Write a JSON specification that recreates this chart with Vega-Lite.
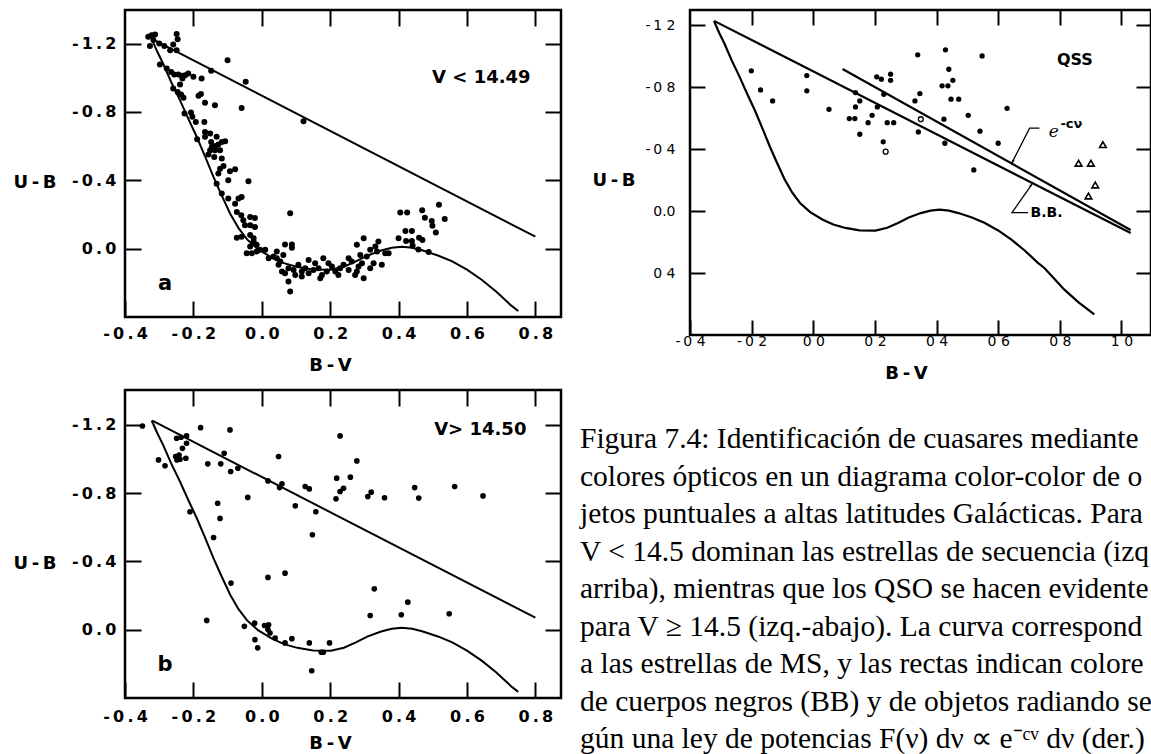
{
  "$schema": "https://vega.github.io/schema/vega-lite/v6.json",
  "padding": {"left": 11, "top": 7, "right": 0, "bottom": 0},
  "config": {
    "view": {"stroke": "#000", "strokeWidth": 2.5},
    "axis": {"domain": false, "grid": false, "tickColor": "#000", "tickWidth": 2, "labelColor": "#000", "titleColor": "#000", "labelFont": "DejaVu Sans", "titleFont": "DejaVu Sans", "titleFontWeight": "bold", "labelFontWeight": "bold", "labelFlush": false, "labelOverlap": false}
  },
  "datasets": {
    "ptsA": [
      {"x":-0.332,"y":-1.239},{"x":-0.322,"y":-1.249},{"x":-0.312,"y":-1.253},{"x":-0.327,"y":-1.186},{"x":-0.317,"y":-1.22},{"x":-0.3,"y":-1.2},{"x":-0.285,"y":-1.186},{"x":-0.249,"y":-1.255},{"x":-0.246,"y":-1.225},{"x":-0.259,"y":-1.194},{"x":-0.268,"y":-1.161},{"x":-0.249,"y":-1.161},{"x":-0.1,"y":-1.102},{"x":-0.148,"y":-1.04},{"x":-0.047,"y":-0.976},{"x":-0.059,"y":-0.823},{"x":0.122,"y":-0.745},{"x":-0.298,"y":-1.077},{"x":-0.278,"y":-1.054},{"x":-0.265,"y":-1.034},{"x":-0.256,"y":-1.018},{"x":-0.244,"y":-1.018},{"x":-0.234,"y":-1.011},{"x":-0.224,"y":-1.015},{"x":-0.215,"y":-1.024},{"x":-0.232,"y":-0.995},{"x":-0.2,"y":-1.005},{"x":-0.176,"y":-0.995},{"x":-0.239,"y":-0.96},{"x":-0.259,"y":-0.937},{"x":-0.246,"y":-0.917},{"x":-0.236,"y":-0.901},{"x":-0.229,"y":-0.882},{"x":-0.185,"y":-0.894},{"x":-0.178,"y":-0.905},{"x":-0.166,"y":-0.853},{"x":-0.137,"y":-0.839},{"x":-0.226,"y":-0.79},{"x":-0.207,"y":-0.796},{"x":-0.203,"y":-0.771},{"x":-0.193,"y":-0.741},{"x":-0.168,"y":-0.741},{"x":-0.189,"y":-0.64},{"x":-0.166,"y":-0.683},{"x":-0.151,"y":-0.673},{"x":-0.166,"y":-0.654},{"x":-0.148,"y":-0.624},{"x":-0.132,"y":-0.654},{"x":-0.146,"y":-0.595},{"x":-0.135,"y":-0.601},{"x":-0.127,"y":-0.609},{"x":-0.117,"y":-0.624},{"x":-0.107,"y":-0.628},{"x":-0.151,"y":-0.575},{"x":-0.137,"y":-0.575},{"x":-0.122,"y":-0.575},{"x":-0.156,"y":-0.55},{"x":-0.139,"y":-0.536},{"x":-0.117,"y":-0.527},{"x":-0.122,"y":-0.468},{"x":-0.112,"y":-0.484},{"x":-0.093,"y":-0.453},{"x":-0.078,"y":-0.464},{"x":-0.127,"y":-0.439},{"x":-0.098,"y":-0.4},{"x":-0.039,"y":-0.394},
      {"x":-0.132,"y":-0.38},{"x":-0.117,"y":-0.322},{"x":-0.098,"y":-0.293},{"x":-0.078,"y":-0.263},{"x":-0.068,"y":-0.293},{"x":-0.059,"y":-0.302},{"x":-0.073,"y":-0.214},{"x":-0.06,"y":-0.195},{"x":-0.054,"y":-0.166},{"x":-0.034,"y":-0.185},{"x":-0.02,"y":-0.179},{"x":-0.049,"y":-0.137},{"x":-0.034,"y":-0.137},{"x":-0.02,"y":-0.127},{"x":-0.073,"y":-0.064},{"x":-0.059,"y":-0.07},{"x":-0.034,"y":-0.08},{"x":-0.024,"y":-0.061},{"x":-0.024,"y":-0.041},{"x":-0.015,"y":-0.022},{"x":-0.034,"y":-0.012},{"x":-0.044,"y":0.027},{"x":-0.029,"y":0.027},{"x":-0.015,"y":0.017},{"x":-0.005,"y":0.007},{"x":0.01,"y":0.007},{"x":0.02,"y":0.056},{"x":0.034,"y":0.046},{"x":0.044,"y":0.056},{"x":0.049,"y":0.095},{"x":0.054,"y":0.076},{"x":0.059,"y":0.134},{"x":0.068,"y":0.144},{"x":0.078,"y":0.193},{"x":0.083,"y":0.251},{"x":0.068,"y":-0.024},{"x":0.088,"y":-0.024},{"x":0.088,"y":-0.005},{"x":0.083,"y":-0.207},{"x":0.044,"y":0.017},{"x":0.063,"y":0.037},{"x":0.078,"y":0.115},{"x":0.093,"y":0.125},{"x":0.107,"y":0.095},{"x":0.117,"y":0.134},{"x":0.127,"y":0.115},{"x":0.137,"y":0.144},{"x":0.151,"y":0.125},{"x":0.166,"y":0.115},{"x":0.176,"y":0.154},{"x":0.18,"y":0.056},{"x":0.19,"y":0.134},{"x":0.205,"y":0.105},{"x":0.215,"y":0.134},{"x":0.229,"y":0.115},{"x":0.239,"y":0.095},{"x":0.254,"y":0.125},{"x":0.263,"y":0.076},{"x":0.273,"y":0.154},{"x":0.283,"y":0.105},{"x":0.293,"y":0.086},{"x":0.307,"y":0.046},{"x":0.298,"y":0.173},{"x":0.317,"y":0.115},{"x":0.327,"y":0.086},{"x":0.337,"y":0.017},{"x":0.351,"y":0.095},{"x":0.361,"y":0.027},{"x":0.371,"y":0.027},{"x":0.341,"y":-0.041},{"x":0.298,"y":-0.061},{"x":0.278,"y":-0.022},{"x":0.278,"y":0.134},{"x":0.224,"y":0.154},{"x":0.137,"y":0.066},{"x":0.156,"y":0.086},{"x":0.195,"y":0.086},{"x":0.254,"y":0.056},{"x":0.288,"y":0.037},{"x":0.317,"y":0.007},{"x":0.332,"y":-0.012},{"x":0.098,"y":0.154},{"x":0.117,"y":0.163},{"x":0.171,"y":0.173},{"x":0.405,"y":-0.212},{"x":0.4,"y":-0.061},
      {"x":0.425,"y":-0.211},{"x":0.469,"y":-0.225},{"x":0.477,"y":-0.18},{"x":0.518,"y":-0.256},{"x":0.535,"y":-0.174},{"x":0.497,"y":-0.162},{"x":0.499,"y":-0.134},{"x":0.509,"y":-0.095},{"x":0.42,"y":-0.103},{"x":0.439,"y":-0.103},{"x":0.422,"y":-0.045},{"x":0.439,"y":-0.045},{"x":0.441,"y":-0.018},{"x":0.46,"y":-0.064},{"x":0.47,"y":-0.051},{"x":0.458,"y":0.005},{"x":0.488,"y":0.02}
    ],
    "ptsB": [
      {"x":-0.349,"y":-1.194},{"x":-0.302,"y":-0.995},{"x":-0.283,"y":-0.961},{"x":-0.249,"y":-1.122},{"x":-0.236,"y":-1.128},{"x":-0.22,"y":-1.136},{"x":-0.22,"y":-1.093},{"x":-0.232,"y":-1.063},{"x":-0.252,"y":-1.015},{"x":-0.242,"y":-1.024},{"x":-0.239,"y":-0.999},{"x":-0.222,"y":-1.005},{"x":-0.248,"y":-0.995},{"x":-0.179,"y":-1.184},{"x":-0.093,"y":-1.171},{"x":-0.158,"y":-0.972},{"x":-0.12,"y":-0.972},{"x":-0.11,"y":-1.034},{"x":-0.091,"y":-0.927},{"x":-0.07,"y":-0.946},{"x":-0.041,"y":-0.775},{"x":0.018,"y":-0.872},{"x":0.049,"y":-1.015},{"x":0.059,"y":-0.855},{"x":0.052,"y":-0.833},{"x":0.127,"y":-0.839},{"x":0.139,"y":-0.825},{"x":0.098,"y":-0.726},{"x":0.158,"y":-0.691},{"x":0.148,"y":-0.556},{"x":0.229,"y":-1.136},{"x":0.278,"y":-0.989},{"x":0.219,"y":-0.888},{"x":0.259,"y":-0.894},{"x":0.229,"y":-0.81},{"x":0.239,"y":-0.829},{"x":0.217,"y":-0.767},{"x":0.31,"y":-0.78},{"x":0.32,"y":-0.806},{"x":0.359,"y":-0.773},{"x":-0.129,"y":-0.741},{"x":-0.122,"y":-0.652},{"x":-0.141,"y":-0.54},{"x":-0.21,"y":-0.691},
      {"x":0.447,"y":-0.833},{"x":0.459,"y":-0.771},{"x":0.564,"y":-0.839},{"x":0.647,"y":-0.784},
      {"x":-0.09,"y":-0.273},{"x":0.018,"y":-0.306},{"x":0.068,"y":-0.331},{"x":-0.161,"y":-0.054},{"x":-0.051,"y":-0.019},{"x":-0.021,"y":-0.038},{"x":0.008,"y":-0.024},{"x":0.02,"y":-0.028},{"x":0.018,"y":0.0},{"x":0.024,"y":0.02},{"x":0.039,"y":0.049},{"x":-0.02,"y":0.059},{"x":-0.012,"y":0.107},{"x":0.068,"y":0.078},{"x":0.088,"y":0.053},{"x":0.139,"y":0.078},{"x":0.174,"y":0.133},{"x":0.18,"y":0.133},{"x":0.198,"y":0.078},{"x":0.146,"y":0.241},{"x":0.329,"y":-0.239},{"x":0.317,"y":-0.083},{"x":0.408,"y":-0.087},{"x":0.427,"y":-0.161},{"x":0.548,"y":-0.093}
    ],
    "ptsC": [
      {"x":-0.201,"y":-0.906},{"x":-0.171,"y":-0.783},{"x":-0.132,"y":-0.712},{"x":-0.021,"y":-0.875},{"x":-0.021,"y":-0.777},{"x":0.051,"y":-0.658},{"x":0.117,"y":-0.598},{"x":0.135,"y":-0.598},{"x":0.137,"y":-0.766},{"x":0.151,"y":-0.712},{"x":0.137,"y":-0.673},{"x":0.178,"y":-0.572},{"x":0.151,"y":-0.497},{"x":0.191,"y":-0.619},{"x":0.208,"y":-0.673},{"x":0.206,"y":-0.867},{"x":0.221,"y":-0.852},{"x":0.251,"y":-0.884},{"x":0.251,"y":-0.845},{"x":0.229,"y":-0.755},{"x":0.24,"y":-0.572},{"x":0.261,"y":-0.572},{"x":0.227,"y":-0.448},{"x":0.339,"y":-1.009},{"x":0.346,"y":-0.759},{"x":0.33,"y":-0.712},{"x":0.341,"y":-0.512},
      {"x":0.429,"y":-1.041},{"x":0.548,"y":-1.002},{"x":0.44,"y":-0.916},{"x":0.453,"y":-0.845},{"x":0.418,"y":-0.809},{"x":0.437,"y":-0.809},{"x":0.447,"y":-0.723},{"x":0.472,"y":-0.723},{"x":0.629,"y":-0.664},{"x":0.503,"y":-0.619},{"x":0.424,"y":-0.594},{"x":0.541,"y":-0.517},{"x":0.427,"y":-0.439},{"x":0.6,"y":-0.439},{"x":0.521,"y":-0.267}
    ],
    "openC": [{"x":0.235,"y":-0.385},{"x":0.349,"y":-0.594}],
    "triC": [{"x":0.94,"y":-0.43},{"x":0.861,"y":-0.31},{"x":0.901,"y":-0.31},{"x":0.915,"y":-0.17},{"x":0.893,"y":-0.099}],
    "ms": [
      {"x":-0.322,"y":-1.226},{"x":-0.305,"y":-1.15},{"x":-0.288,"y":-1.08},{"x":-0.265,"y":-0.975},{"x":-0.239,"y":-0.867},{"x":-0.215,"y":-0.76},{"x":-0.19,"y":-0.653},{"x":-0.165,"y":-0.535},{"x":-0.141,"y":-0.418},{"x":-0.117,"y":-0.31},{"x":-0.092,"y":-0.203},{"x":-0.068,"y":-0.12},{"x":-0.043,"y":-0.054},{"x":-0.01,"y":0.005},{"x":0.031,"y":0.054},{"x":0.065,"y":0.085},{"x":0.104,"y":0.107},{"x":0.15,"y":0.122},{"x":0.202,"y":0.124},{"x":0.24,"y":0.106},{"x":0.275,"y":0.075},{"x":0.31,"y":0.04},{"x":0.349,"y":0.011},{"x":0.38,"y":-0.005},{"x":0.41,"y":-0.011},{"x":0.44,"y":-0.005},{"x":0.471,"y":0.011},{"x":0.515,"y":0.04},{"x":0.557,"y":0.075},{"x":0.6,"y":0.123},{"x":0.643,"y":0.182},{"x":0.686,"y":0.252},{"x":0.729,"y":0.332},{"x":0.75,"y":0.365},{"x":0.78,"y":0.43},{"x":0.814,"y":0.503},{"x":0.86,"y":0.585},{"x":0.912,"y":0.664}
    ],
    "bbAB": [{"x":-0.32,"y":-1.225},{"x":0.8,"y":-0.07}],
    "bbC": [{"x":-0.322,"y":-1.228},{"x":1.03,"y":0.14}],
    "plC": [{"x":0.095,"y":-0.918},{"x":1.03,"y":0.12}],
    "leaders": [
      {"id":"e","o":1,"x":0.734,"y":-0.536},{"id":"e","o":2,"x":0.702,"y":-0.536},{"id":"e","o":3,"x":0.645,"y":-0.314},
      {"id":"bb","o":1,"x":0.697,"y":0.008},{"id":"bb","o":2,"x":0.645,"y":0.008},{"id":"bb","o":3,"x":0.71,"y":-0.175}
    ],
    "arrowE": [{"x":0.647,"y":-0.318}],
    "arrowBB": [{"x":0.707,"y":-0.17}],
    "labA": [{"x":0.642,"y":-0.999,"t":"V < 14.49"}],
    "letA": [{"x":-0.283,"y":0.205,"t":"a"}],
    "labB": [{"x":0.639,"y":-1.171,"t":"V> 14.50"}],
    "letB": [{"x":-0.283,"y":0.205,"t":"b"}],
    "qss": [{"x":0.849,"y":-0.977,"t":"QSS"}],
    "bbLab": [{"x":0.705,"y":0.008,"t":"B.B."}],
    "eLab": [{"x":0.764,"y":-0.514,"t":"e"}],
    "eSup": [{"x":0.802,"y":-0.56,"t":"-cν"}],
    "caption": [
      {"line":1,"t":"Figura 7.4: Identificación de cuasares mediante"},
      {"line":2,"t":"colores ópticos en un diagrama color-color de ob-"},
      {"line":3,"t":"jetos puntuales a altas latitudes Galácticas. Para"},
      {"line":4,"t":"V < 14.5 dominan las estrellas de secuencia (izq.-"},
      {"line":5,"t":"arriba), mientras que los QSO se hacen evidentes"},
      {"line":6,"t":"para V ≥ 14.5 (izq.-abajo). La curva corresponde"},
      {"line":7,"t":"a las estrellas de MS, y las rectas indican colores"},
      {"line":8,"t":"de cuerpos negros (BB) y de objetos radiando se-"},
      {"line":9,"t":"gún una ley de potencias F(ν) dν ∝ e⁻ᶜᵛ dν (der.)"}
    ]
  },
  "columns": 2,
  "bounds": "flush",
  "spacing": {"row": 55, "column": 129},
  "concat": [
    {
      "width": 436, "height": 307,
      "layer": [
        {"data": {"name": "ptsA"}, "mark": {"type": "circle", "size": 36, "color": "#000", "opacity": 1},
         "encoding": {
           "x": {"field": "x", "type": "quantitative", "scale": {"domain": [-0.4, 0.875], "nice": false, "zero": false},
                 "axis": {"orient": "bottom", "values": [-0.4, -0.2, 0, 0.2, 0.4, 0.6, 0.8], "tickSize": -16, "labelPadding": 24, "labelFontSize": 16,
                          "labelExpr": "replace(replace(format(datum.value,'.1f'),'\u2212','-\u2009'),'.','\u2009.\u2009')",
                          "title": "B\u2009-\u2009V", "titleFontSize": 18, "titleX": 205, "titleY": 48, "titleAlign": "center", "titleBaseline": "middle"}},
           "y": {"field": "y", "type": "quantitative", "scale": {"domain": [-1.396, 0.4], "reverse": true, "nice": false, "zero": false},
                 "axis": {"orient": "left", "values": [-1.2, -0.8, -0.4, 0], "tickSize": -16, "labelPadding": 25, "labelFontSize": 16,
                          "labelExpr": "replace(replace(format(datum.value,'.1f'),'\u2212','-\u2009'),'.','\u2009.\u2009')",
                          "title": "U\u2009-\u2009B", "titleFontSize": 18, "titleAngle": 0, "titleAlign": "left", "titleBaseline": "middle", "titleX": -112, "titleY": 172}}
         }},
        {"data": {"name": "ms"}, "transform": [{"filter": "datum.x <= 0.76"}], "mark": {"type": "line", "color": "#000", "strokeWidth": 2},
         "encoding": {
           "x": {"field": "x", "type": "quantitative", "scale": {"domain": [-0.4, 0.875], "nice": false, "zero": false},
                 "axis": {"orient": "top", "values": [-0.2, 0, 0.2, 0.4, 0.6, 0.8], "tickSize": -16, "labels": false, "title": null}},
           "y": {"field": "y", "type": "quantitative", "scale": {"domain": [-1.396, 0.4], "reverse": true, "nice": false, "zero": false},
                 "axis": {"orient": "right", "values": [-1.2, -0.8, -0.4, 0], "tickSize": -16, "labels": false, "title": null}}
         }},
        {"data": {"name": "bbAB"}, "mark": {"type": "line", "color": "#000", "strokeWidth": 2},
         "encoding": {
           "x": {"field": "x", "type": "quantitative", "scale": {"domain": [-0.4, 0.875], "nice": false, "zero": false}, "axis": null},
           "y": {"field": "y", "type": "quantitative", "scale": {"domain": [-1.396, 0.4], "reverse": true, "nice": false, "zero": false}, "axis": null}
         }},
        {"data": {"name": "labA"}, "mark": {"type": "text", "font": "DejaVu Sans", "fontSize": 18, "fontWeight": "bold", "align": "center", "baseline": "middle", "color": "#000"},
         "encoding": {
           "x": {"field": "x", "type": "quantitative", "scale": {"domain": [-0.4, 0.875], "nice": false, "zero": false}, "axis": null},
           "y": {"field": "y", "type": "quantitative", "scale": {"domain": [-1.396, 0.4], "reverse": true, "nice": false, "zero": false}, "axis": null},
           "text": {"field": "t"}
         }},
        {"data": {"name": "letA"}, "mark": {"type": "text", "font": "DejaVu Sans", "fontSize": 21, "fontWeight": "bold", "align": "center", "baseline": "middle", "color": "#000"},
         "encoding": {
           "x": {"field": "x", "type": "quantitative", "scale": {"domain": [-0.4, 0.875], "nice": false, "zero": false}, "axis": null},
           "y": {"field": "y", "type": "quantitative", "scale": {"domain": [-1.396, 0.4], "reverse": true, "nice": false, "zero": false}, "axis": null},
           "text": {"field": "t"}
         }}
      ],
      "resolve": {"axis": {"x": "independent", "y": "independent"}}
    },
    {
      "width": 461, "height": 325,
      "layer": [
        {"data": {"name": "ptsC"}, "mark": {"type": "circle", "size": 28, "color": "#000", "opacity": 1},
         "encoding": {
           "x": {"field": "x", "type": "quantitative", "scale": {"domain": [-0.4, 1.096], "nice": false, "zero": false},
                 "axis": {"orient": "bottom", "values": [-0.4, -0.2, 0, 0.2, 0.4, 0.6, 0.8, 1.0], "tickSize": -15, "labelPadding": 14, "labelFontSize": 14, "labelFontWeight": "normal",
                          "labelExpr": "replace(replace(format(datum.value,'.1f'),'\u2212','-\u2009'),'.',' ')",
                          "title": "B\u2009-\u2009V", "titleFontSize": 18, "titleX": 216, "titleY": 38, "titleAlign": "center", "titleBaseline": "middle"}},
           "y": {"field": "y", "type": "quantitative", "scale": {"domain": [-1.298, 0.797], "reverse": true, "nice": false, "zero": false},
                 "axis": {"orient": "left", "values": [-1.2, -0.8, -0.4, 0, 0.4], "tickSize": -15, "labelPadding": 30, "labelFontSize": 14, "labelFontWeight": "normal",
                          "labelExpr": "datum.value == 0 ? '0.0' : replace(replace(format(datum.value,'.1f'),'\u2212','-\u2009'),'.',' ')",
                          "title": "U\u2009-\u2009B", "titleFontSize": 18, "titleAngle": 0, "titleAlign": "left", "titleBaseline": "middle", "titleX": -98, "titleY": 170}}
         }},
        {"data": {"name": "ms"}, "mark": {"type": "line", "color": "#000", "strokeWidth": 2.2},
         "encoding": {
           "x": {"field": "x", "type": "quantitative", "scale": {"domain": [-0.4, 1.096], "nice": false, "zero": false},
                 "axis": {"orient": "top", "values": [-0.2, 0, 0.2, 0.4, 0.6, 0.8, 1.0], "tickSize": -15, "labels": false, "title": null}},
           "y": {"field": "y", "type": "quantitative", "scale": {"domain": [-1.298, 0.797], "reverse": true, "nice": false, "zero": false},
                 "axis": {"orient": "right", "values": [-1.2, -0.8, -0.4, 0, 0.4], "tickSize": -15, "labels": false, "title": null}}
         }},
        {"data": {"name": "bbC"}, "mark": {"type": "line", "color": "#000", "strokeWidth": 2.2},
         "encoding": {
           "x": {"field": "x", "type": "quantitative", "scale": {"domain": [-0.4, 1.096], "nice": false, "zero": false}, "axis": null},
           "y": {"field": "y", "type": "quantitative", "scale": {"domain": [-1.298, 0.797], "reverse": true, "nice": false, "zero": false}, "axis": null}
         }},
        {"data": {"name": "plC"}, "mark": {"type": "line", "color": "#000", "strokeWidth": 2.2},
         "encoding": {
           "x": {"field": "x", "type": "quantitative", "scale": {"domain": [-0.4, 1.096], "nice": false, "zero": false}, "axis": null},
           "y": {"field": "y", "type": "quantitative", "scale": {"domain": [-1.298, 0.797], "reverse": true, "nice": false, "zero": false}, "axis": null}
         }},
        {"data": {"name": "leaders"}, "mark": {"type": "line", "color": "#000", "strokeWidth": 1.3},
         "encoding": {
           "x": {"field": "x", "type": "quantitative", "scale": {"domain": [-0.4, 1.096], "nice": false, "zero": false}, "axis": null},
           "y": {"field": "y", "type": "quantitative", "scale": {"domain": [-1.298, 0.797], "reverse": true, "nice": false, "zero": false}, "axis": null},
           "detail": {"field": "id"},
           "order": {"field": "o", "type": "quantitative"}
         }},
        {"data": {"name": "arrowE"}, "mark": {"type": "point", "shape": "wedge", "size": 60, "angle": 207, "filled": true, "color": "#000", "opacity": 1},
         "encoding": {
           "x": {"field": "x", "type": "quantitative", "scale": {"domain": [-0.4, 1.096], "nice": false, "zero": false}, "axis": null},
           "y": {"field": "y", "type": "quantitative", "scale": {"domain": [-1.298, 0.797], "reverse": true, "nice": false, "zero": false}, "axis": null}
         }},
        {"data": {"name": "arrowBB"}, "mark": {"type": "point", "shape": "wedge", "size": 60, "angle": 35, "filled": true, "color": "#000", "opacity": 1},
         "encoding": {
           "x": {"field": "x", "type": "quantitative", "scale": {"domain": [-0.4, 1.096], "nice": false, "zero": false}, "axis": null},
           "y": {"field": "y", "type": "quantitative", "scale": {"domain": [-1.298, 0.797], "reverse": true, "nice": false, "zero": false}, "axis": null}
         }},
        {"data": {"name": "openC"}, "mark": {"type": "point", "shape": "circle", "size": 24, "filled": false, "color": "#000", "strokeWidth": 1.3, "opacity": 1},
         "encoding": {
           "x": {"field": "x", "type": "quantitative", "scale": {"domain": [-0.4, 1.096], "nice": false, "zero": false}, "axis": null},
           "y": {"field": "y", "type": "quantitative", "scale": {"domain": [-1.298, 0.797], "reverse": true, "nice": false, "zero": false}, "axis": null}
         }},
        {"data": {"name": "triC"}, "mark": {"type": "point", "shape": "triangle-up", "size": 45, "filled": false, "color": "#000", "strokeWidth": 1.6, "opacity": 1},
         "encoding": {
           "x": {"field": "x", "type": "quantitative", "scale": {"domain": [-0.4, 1.096], "nice": false, "zero": false}, "axis": null},
           "y": {"field": "y", "type": "quantitative", "scale": {"domain": [-1.298, 0.797], "reverse": true, "nice": false, "zero": false}, "axis": null}
         }},
        {"data": {"name": "qss"}, "mark": {"type": "text", "font": "DejaVu Sans", "fontSize": 16, "fontWeight": "bold", "align": "center", "baseline": "middle", "color": "#000"},
         "encoding": {
           "x": {"field": "x", "type": "quantitative", "scale": {"domain": [-0.4, 1.096], "nice": false, "zero": false}, "axis": null},
           "y": {"field": "y", "type": "quantitative", "scale": {"domain": [-1.298, 0.797], "reverse": true, "nice": false, "zero": false}, "axis": null},
           "text": {"field": "t"}
         }},
        {"data": {"name": "bbLab"}, "mark": {"type": "text", "font": "DejaVu Sans", "fontSize": 14, "fontWeight": "bold", "align": "left", "baseline": "middle", "color": "#000"},
         "encoding": {
           "x": {"field": "x", "type": "quantitative", "scale": {"domain": [-0.4, 1.096], "nice": false, "zero": false}, "axis": null},
           "y": {"field": "y", "type": "quantitative", "scale": {"domain": [-1.298, 0.797], "reverse": true, "nice": false, "zero": false}, "axis": null},
           "text": {"field": "t"}
         }},
        {"data": {"name": "eLab"}, "mark": {"type": "text", "font": "DejaVu Serif", "fontStyle": "italic", "fontSize": 17, "align": "left", "baseline": "middle", "color": "#000"},
         "encoding": {
           "x": {"field": "x", "type": "quantitative", "scale": {"domain": [-0.4, 1.096], "nice": false, "zero": false}, "axis": null},
           "y": {"field": "y", "type": "quantitative", "scale": {"domain": [-1.298, 0.797], "reverse": true, "nice": false, "zero": false}, "axis": null},
           "text": {"field": "t"}
         }},
        {"data": {"name": "eSup"}, "mark": {"type": "text", "font": "DejaVu Sans", "fontSize": 13, "fontWeight": "bold", "align": "left", "baseline": "middle", "color": "#000"},
         "encoding": {
           "x": {"field": "x", "type": "quantitative", "scale": {"domain": [-0.4, 1.096], "nice": false, "zero": false}, "axis": null},
           "y": {"field": "y", "type": "quantitative", "scale": {"domain": [-1.298, 0.797], "reverse": true, "nice": false, "zero": false}, "axis": null},
           "text": {"field": "t"}
         }}
      ],
      "resolve": {"axis": {"x": "independent", "y": "independent"}}
    },
    {
      "width": 436, "height": 308,
      "layer": [
        {"data": {"name": "ptsB"}, "mark": {"type": "circle", "size": 32, "color": "#000", "opacity": 1},
         "encoding": {
           "x": {"field": "x", "type": "quantitative", "scale": {"domain": [-0.4, 0.875], "nice": false, "zero": false},
                 "axis": {"orient": "bottom", "values": [-0.4, -0.2, 0, 0.2, 0.4, 0.6, 0.8], "tickSize": -16, "labelPadding": 26, "labelFontSize": 16,
                          "labelExpr": "replace(replace(format(datum.value,'.1f'),'\u2212','-\u2009'),'.','\u2009.\u2009')",
                          "title": "B\u2009-\u2009V", "titleFontSize": 18, "titleX": 205, "titleY": 45, "titleAlign": "center", "titleBaseline": "middle"}},
           "y": {"field": "y", "type": "quantitative", "scale": {"domain": [-1.405, 0.401], "reverse": true, "nice": false, "zero": false},
                 "axis": {"orient": "left", "values": [-1.2, -0.8, -0.4, 0], "tickSize": -16, "labelPadding": 25, "labelFontSize": 16,
                          "labelExpr": "replace(replace(format(datum.value,'.1f'),'\u2212','-\u2009'),'.','\u2009.\u2009')",
                          "title": "U\u2009-\u2009B", "titleFontSize": 18, "titleAngle": 0, "titleAlign": "left", "titleBaseline": "middle", "titleX": -112, "titleY": 173}}
         }},
        {"data": {"name": "ms"}, "transform": [{"filter": "datum.x <= 0.76"}], "mark": {"type": "line", "color": "#000", "strokeWidth": 2},
         "encoding": {
           "x": {"field": "x", "type": "quantitative", "scale": {"domain": [-0.4, 0.875], "nice": false, "zero": false},
                 "axis": {"orient": "top", "values": [-0.2, 0, 0.2, 0.4, 0.6, 0.8], "tickSize": -16, "labels": false, "title": null}},
           "y": {"field": "y", "type": "quantitative", "scale": {"domain": [-1.405, 0.401], "reverse": true, "nice": false, "zero": false},
                 "axis": {"orient": "right", "values": [-1.2, -0.8, -0.4, 0], "tickSize": -16, "labels": false, "title": null}}
         }},
        {"data": {"name": "bbAB"}, "mark": {"type": "line", "color": "#000", "strokeWidth": 2},
         "encoding": {
           "x": {"field": "x", "type": "quantitative", "scale": {"domain": [-0.4, 0.875], "nice": false, "zero": false}, "axis": null},
           "y": {"field": "y", "type": "quantitative", "scale": {"domain": [-1.405, 0.401], "reverse": true, "nice": false, "zero": false}, "axis": null}
         }},
        {"data": {"name": "labB"}, "mark": {"type": "text", "font": "DejaVu Sans", "fontSize": 18, "fontWeight": "bold", "align": "center", "baseline": "middle", "color": "#000"},
         "encoding": {
           "x": {"field": "x", "type": "quantitative", "scale": {"domain": [-0.4, 0.875], "nice": false, "zero": false}, "axis": null},
           "y": {"field": "y", "type": "quantitative", "scale": {"domain": [-1.405, 0.401], "reverse": true, "nice": false, "zero": false}, "axis": null},
           "text": {"field": "t"}
         }},
        {"data": {"name": "letB"}, "mark": {"type": "text", "font": "DejaVu Sans", "fontSize": 21, "fontWeight": "bold", "align": "center", "baseline": "middle", "color": "#000"},
         "encoding": {
           "x": {"field": "x", "type": "quantitative", "scale": {"domain": [-0.4, 0.875], "nice": false, "zero": false}, "axis": null},
           "y": {"field": "y", "type": "quantitative", "scale": {"domain": [-1.405, 0.401], "reverse": true, "nice": false, "zero": false}, "axis": null},
           "text": {"field": "t"}
         }}
      ],
      "resolve": {"axis": {"x": "independent", "y": "independent"}}
    },
    {
      "width": 463, "height": 308,
      "view": {"stroke": null},
      "data": {"name": "caption"},
      "mark": {"type": "text", "font": "Liberation Serif", "fontSize": 29.5, "align": "left", "baseline": "alphabetic", "dx": -110, "limit": 572, "ellipsis": "\u200b", "color": "#000"},
      "encoding": {
        "x": {"datum": 0, "type": "quantitative", "scale": {"domain": [0, 1]}, "axis": null},
        "y": {"field": "line", "type": "quantitative", "scale": {"domain": [1, 9], "range": [58, 358]}, "axis": null},
        "text": {"field": "t"}
      }
    }
  ]
}
